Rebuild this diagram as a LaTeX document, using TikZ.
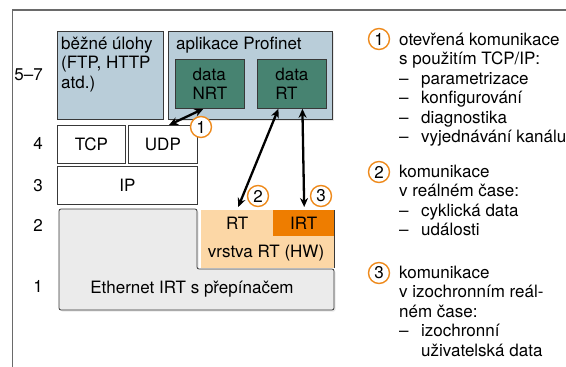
\documentclass[tikz,border=0pt]{standalone}
\usepackage{fontspec}
\setmainfont{TeX Gyre Heros}
\usetikzlibrary{arrows.meta}
\usetikzlibrary{shadows}
\definecolor{taskblue}{HTML}{B9CDD9}
\definecolor{datagreen}{HTML}{478371}
\definecolor{rtorange}{HTML}{FCD7A6}
\definecolor{irtorange}{HTML}{EE7D00}
\definecolor{ethgrey}{HTML}{EBEBEB}
\definecolor{edge}{HTML}{383838}
\definecolor{markorange}{HTML}{EE8A1C}
\definecolor{framegrey}{HTML}{6A6A6A}
\tikzstyle{object}=[draw=edge, line width=0.8pt]
\tikzstyle{layer box}=[object, anchor=north west, inner sep=0pt]
\tikzstyle{data box}=[layer box, fill=datagreen, align=left, minimum width=69pt, minimum height=49pt]
\tikzstyle{soft shadow}=[drop shadow={opacity=0.18, shadow xshift=1.5pt, shadow yshift=-1.5pt}]
\tikzstyle{link}=[line width=2.3pt, {Stealth[length=9pt, width=8pt]}-{Stealth[length=9pt, width=8pt]}]
\tikzstyle{marker}=[circle, draw=markorange, line width=1.4pt, fill=white, minimum size=21pt, inner sep=0pt]
\tikzstyle{caption}=[anchor=base west, inner sep=0pt, align=left]
\tikzstyle{layer number}=[anchor=base east, inner sep=0pt]
\newcommand{\itemdash}{\makebox[22pt][l]{–}}

\begin{document}
\begin{tikzpicture}[x=1pt, y=-1pt, font=\fontsize{17pt}{19.5pt}\selectfont]
          \useasboundingbox (0, 0) rectangle (566, 367);
          \draw[framegrey, line width=1.2pt] (12.7, 367) -- (12.7, 10) -- (566, 10);

          % layer numbers
          \node[layer number] (n57) at (43, 80.5) {5–7};
          \node[layer number] (n4) at (43, 149) {4};
          \node[layer number] (n3) at (43, 191.5) {3};
          \node[layer number] (n2) at (43, 231.5) {2};
          \node[layer number] (n1) at (43, 292.5) {1};

          % layers 5-7 (captions sit on the baseline of their last line)
          \node[layer box, fill=taskblue, minimum width=106pt, minimum height=88pt]
            (tasks) at (57, 31) {};
          \node[caption] (taskstext) at (61, 88) {běžné úlohy\\(FTP, HTTP\\atd.)};
          \node[layer box, fill=taskblue, soft shadow, minimum width=164pt, minimum height=88pt]
            (profinet) at (168, 31) {};
          \node[caption] (profinettext) at (176, 49) {aplikace Profinet};
          \node[data box] (nrt) at (175, 59) {data\\NRT};
          \node[data box] (rtdata) at (257, 59) {data\\RT};

          % layers 3-4
          \node[layer box, fill=white, minimum width=68pt, minimum height=38pt]
            (tcp) at (57, 125) {TCP};
          \node[layer box, fill=white, minimum width=69pt, minimum height=38pt]
            (udp) at (128, 125) {UDP};
          \node[layer box, fill=white, minimum width=140pt, minimum height=38pt]
            (ip) at (57, 166) {IP};

          % layers 1-2
          \draw[object, fill=ethgrey, soft shadow, rounded corners=2pt]
            (59, 209) -- (197, 209) -- (197, 269) -- (334, 269)
            -- (334, 310) -- (59, 310) -- cycle;
          \node[inner sep=0pt] (ethernet) at (192, 289) {Ethernet IRT s přepínačem};
          \node[anchor=north west, fill=rtorange, inner sep=0pt, minimum width=133pt, minimum height=58pt]
            (rtlayer) at (201, 210) {};
          \draw[object] (rtlayer.north east) -- (rtlayer.south east);
          \node[anchor=north west, inner sep=0pt, minimum width=72pt, minimum height=26pt]
            (rtcell) at (201, 210) {RT};
          \node[anchor=north west, fill=irtorange, inner sep=0pt, minimum width=61pt, minimum height=26pt]
            (irt) at (273, 210) {IRT};
          \node[inner sep=0pt] (hwtext) at (266, 253) {vrstva RT (HW)};

          % connections
          \draw[link] ([xshift=-6.5pt]nrt.south) -- ([xshift=41pt]udp.north west);
          \draw[link] ([xshift=-13.5pt]rtdata.south) -- ([xshift=1pt, yshift=3pt]rtcell.north);
          \draw[link] ([xshift=10.5pt]rtdata.south) -- ([xshift=0.5pt, yshift=3pt]irt.north);
          \node[marker] (m1) at (201, 127) {1};
          \node[marker] (m2) at (258, 196) {2};
          \node[marker] (m3) at (321, 196) {3};

          % legend
          \node[marker] (leg1mark) at (379, 39) {1};
          \node[caption] (leg1) at (399, 142.5)
            {otevřená komunikace\\s použitím TCP/IP:\\\itemdash parametrizace\\\itemdash konfigurování\\\itemdash diagnostika\\\itemdash vyjednávání kanálu};
          \node[marker] (leg2mark) at (379, 172) {2};
          \node[caption] (leg2) at (399, 235.5)
            {komunikace\\v reálném čase:\\\itemdash cyklická data\\\itemdash události};
          \node[marker] (leg3mark) at (379, 273) {3};
          \node[caption] (leg3) at (399, 356)
            {komunikace\\v izochronním reál-\\ném čase:\\\itemdash izochronní\\\hspace*{22pt}uživatelská data};

          % \draw[highlight box] (0, 0) rectangle (566, 367);
        \end{tikzpicture}
\end{document}
